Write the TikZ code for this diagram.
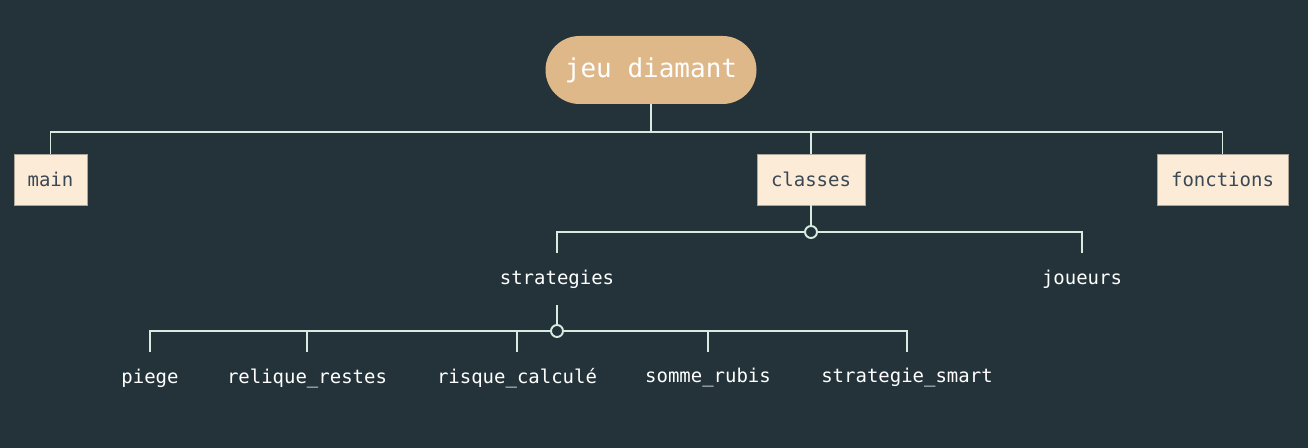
\documentclass[tikz,border=0pt]{standalone}
\usepackage{fontspec}
\setmonofont{DejaVu Sans Mono}
\usepackage{xcolor}
\usepackage{tikz}
\usetikzlibrary{positioning, calc}
\definecolor{bgslate}{RGB}{35, 51, 57}
\definecolor{roottan}{RGB}{223, 184, 138}
\definecolor{boxcream}{RGB}{252, 235, 215}
\definecolor{boxedge}{RGB}{175, 165, 150}
\definecolor{boxink}{RGB}{58, 72, 84}
\definecolor{linkmint}{RGB}{214, 236, 224}
\tikzset{
    rootnode/.style={fill=roottan, draw=none, minimum width=4.22cm, minimum height=1.36cm,
                     rounded corners=0.68cm, text=white,
                     font=\ttfamily\fontsize{14.8}{17}\selectfont},
    modbox/.style  ={fill=boxcream, draw=boxedge, line width=0.5pt, minimum height=1.02cm,
                     text=boxink, font=\ttfamily\fontsize{10.8}{13}\selectfont},
    pkg/.style     ={minimum height=1.04cm, inner sep=0pt, text=white,
                     font=\ttfamily\fontsize{10.8}{13}\selectfont},
    hub/.style     ={circle, draw=linkmint, fill=bgslate, line width=1.1pt,
                     minimum size=0.24cm, inner sep=0pt},
    link/.style    ={draw=linkmint, line width=1.1pt}
}

\begin{document}
\begin{tikzpicture}
  \fill[bgslate] (0,0) rectangle (26.16,-8.96);
  \useasboundingbox (0,0) rectangle (26.16,-8.96);

  % top level
  \node[rootnode] (root) at (13.02,-1.40) {jeu diamant};
  \node[modbox, minimum width=1.46cm] (main) at (1.01,-3.59) {main};
  \node[modbox, minimum width=2.16cm] (classes) at (16.22,-3.59) {classes};
  \node[modbox, minimum width=2.62cm] (fonctions) at (24.45,-3.59) {fonctions};
  \coordinate (bus1) at (13.02,-2.64);
  \draw[link] (root.south) -- (bus1);
  \draw[link] (main.north) -- (main.north |- bus1) -- (fonctions.north |- bus1) -- (fonctions.north);
  \draw[link] (classes.north) -- (classes.north |- bus1);

  % classes
  \node[pkg] (strategies) at (11.14,-5.58) {strategies};
  \node[pkg] (joueurs) at (21.64,-5.58) {joueurs};
  \node[hub] (hub1) at (16.22,-4.64) {};
  \draw[link] (classes.south) -- (hub1.north);
  \draw[link] (strategies.north) -- (strategies.north |- hub1) -- (hub1.west);
  \draw[link] (hub1.east) -- (joueurs.north |- hub1) -- (joueurs.north);

  % strategies
  \node[pkg] (piege) at (3.00,-7.56) {piege};
  \node[pkg] (relique) at (6.14,-7.56) {relique\_restes};
  \node[pkg] (risque) at (10.34,-7.56) {risque\_calculé};
  \node[pkg] (somme) at (14.16,-7.56) {somme\_rubis};
  \node[pkg] (smart) at (18.14,-7.56) {strategie\_smart};
  \node[hub] (hub2) at (11.14,-6.62) {};
  \draw[link] (strategies.south) -- (hub2.north);
  \draw[link] (piege.north) -- (piege.north |- hub2) -- (hub2.west);
  \draw[link] (hub2.east) -- (smart.north |- hub2) -- (smart.north);
  \foreach \leaf in {relique, risque, somme}
    \draw[link] (\leaf.north) -- (\leaf.north |- hub2);
\end{tikzpicture}
\end{document}
